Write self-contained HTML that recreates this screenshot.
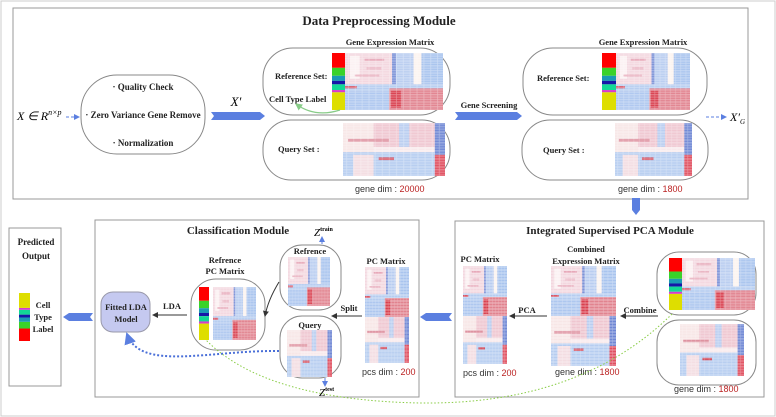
<!DOCTYPE html>
<html><head><meta charset="utf-8"><style>
html,body{margin:0;padding:0;background:#fff}
svg{display:block}
.t{font-family:"Liberation Serif",serif;font-weight:bold;fill:#222}
.s{font-family:"Liberation Sans",sans-serif;fill:#333;font-size:9px}
.r{fill:#b22}
</style></head><body>
<svg width="776" height="417" viewBox="0 0 776 417" xmlns="http://www.w3.org/2000/svg">
<defs>
<pattern id="st" width="7" height="3" patternUnits="userSpaceOnUse"><rect width="7" height="1" fill="#fff" opacity="0.45"/><rect x="3" y="1" width="1" height="2" fill="#fff" opacity="0.3"/></pattern>
<symbol id="hm" viewBox="0 0 100 100" preserveAspectRatio="none">
<rect width="100" height="100" fill="#f6e4e8"/>
<rect x="0" y="0" width="48" height="55" fill="#f3d7df"/>
<rect x="5" y="5" width="10" height="40" fill="#fbf1f2"/>
<rect x="20" y="10" width="20" height="4" fill="#e7a9b9"/>
<rect x="22" y="25" width="15" height="4" fill="#e9b4c2"/>
<rect x="10" y="38" width="25" height="3" fill="#e7a9b9"/>
<rect x="48" y="0" width="4" height="55" fill="#7d93d8"/>
<rect x="52" y="0" width="18" height="55" fill="#b9cdf0"/>
<rect x="70" y="0" width="8" height="55" fill="#fbf3ef"/>
<rect x="78" y="0" width="22" height="55" fill="#a9c4ee"/>
<rect x="0" y="55" width="100" height="12" fill="#b6cdf0"/>
<rect x="0" y="67" width="45" height="33" fill="#aec7ef"/>
<rect x="45" y="62" width="55" height="38" fill="#e1838f"/>
<rect x="47" y="66" width="10" height="30" fill="#d9404f"/>
<rect x="0" y="58" width="12" height="4" fill="#d85a6a"/>
<rect width="100" height="100" fill="url(#st)"/>
</symbol>
<symbol id="qm" viewBox="0 0 100 100" preserveAspectRatio="none">
<rect width="100" height="100" fill="#f8eaec"/>
<rect x="0" y="0" width="30" height="55" fill="#f7e6e6"/>
<rect x="30" y="0" width="60" height="45" fill="#efc6d0"/>
<rect x="55" y="0" width="10" height="45" fill="#b9cdf0"/>
<rect x="90" y="0" width="10" height="60" fill="#6f87d4"/>
<rect x="5" y="30" width="40" height="5" fill="#dc8b9a"/>
<rect x="0" y="55" width="90" height="45" fill="#b6cdf0"/>
<rect x="10" y="60" width="20" height="40" fill="#f3dde2"/>
<rect x="35" y="65" width="15" height="5" fill="#d34a5a"/>
<rect x="90" y="60" width="10" height="40" fill="#e05060"/>
<rect width="100" height="100" fill="url(#st)"/>
</symbol>
<symbol id="bar" viewBox="0 0 10 100" preserveAspectRatio="none">
<rect y="0" width="10" height="26" fill="#f00"/>
<rect y="26" width="10" height="14" fill="#3ad22a"/>
<rect y="40" width="10" height="9" fill="#1a9ab5"/>
<rect y="49" width="10" height="6" fill="#1616a8"/>
<rect y="55" width="10" height="10" fill="#12d896"/>
<rect y="65" width="10" height="4" fill="#d63ccc"/>
<rect y="69" width="10" height="31" fill="#dede00"/>
</symbol>
<marker id="ab" markerWidth="6" markerHeight="6" refX="5" refY="3" orient="auto"><path d="M0,0L6,3L0,6z" fill="#5b7fe0"/></marker>
<marker id="ak" markerWidth="6" markerHeight="6" refX="5" refY="3" orient="auto"><path d="M0,0L6,3L0,6z" fill="#333"/></marker>
<marker id="ag" markerWidth="6" markerHeight="6" refX="5" refY="3" orient="auto"><path d="M0,0L6,3L0,6z" fill="#8c8"/></marker>
</defs>
<rect x="1" y="1" width="774" height="415" fill="none" stroke="#ccc"/>
<rect x="13" y="8" width="735" height="191" fill="none" stroke="#999"/>
<text class="t" x="379" y="25" font-size="13" text-anchor="middle">Data Preprocessing Module</text>
<text x="17" y="120" font-family="Liberation Serif,serif" font-style="italic" font-size="12">X ∈ R<tspan font-size="8" dy="-5">n×p</tspan></text>
<line x1="66" y1="117" x2="79" y2="117" stroke="#5b7fe0" stroke-dasharray="3,2" marker-end="url(#ab)"/>
<rect x="81" y="75" width="124" height="79" rx="36" fill="#fff" stroke="#888"/>
<text class="t" x="143" y="90" font-size="9" text-anchor="middle">· Quality Check</text>
<text class="t" x="143" y="118" font-size="9" text-anchor="middle">· Zero Variance Gene Remove</text>
<text class="t" x="143" y="146" font-size="9" text-anchor="middle">· Normalization</text>
<path d="M211,112H260L265,116L260,120H211L214,116z" fill="#5b7fe0"/>
<text x="236" y="106" font-family="Liberation Serif,serif" font-style="italic" font-size="13" text-anchor="middle">X′</text>
<text class="t" x="390" y="45" font-size="8.5" text-anchor="middle">Gene Expression Matrix</text>
<rect x="263" y="48" width="187" height="67" rx="30" fill="none" stroke="#888"/>
<rect x="263" y="120" width="187" height="60" rx="28" fill="none" stroke="#888"/>
<use href="#bar" x="332" y="53" width="13" height="57"/>
<use href="#hm" x="345" y="53" width="98" height="57"/>
<use href="#qm" x="343" y="123" width="102" height="53"/>
<text class="t" x="275" y="79" font-size="8.5">Reference Set:</text>
<text class="t" x="269" y="102" font-size="8.5">Cell Type Label</text>
<path d="M340,110 Q315,118 296,104" fill="none" stroke="#8c8" stroke-width="1.2" marker-end="url(#ag)"/>
<text class="t" x="278" y="152" font-size="8.5">Query Set :</text>
<text class="s" x="355" y="192">gene dim : <tspan class="r">20000</tspan></text>
<path d="M455,112H517L522,116L517,120H455L458,116z" fill="#5b7fe0"/>
<text class="t" x="489" y="108" font-size="8.5" text-anchor="middle">Gene Screening</text>
<text class="t" x="643" y="45" font-size="8.5" text-anchor="middle">Gene Expression Matrix</text>
<rect x="523" y="48" width="184" height="67" rx="30" fill="none" stroke="#888"/>
<rect x="522" y="120" width="186" height="60" rx="28" fill="none" stroke="#888"/>
<use href="#bar" x="602" y="53" width="14" height="57"/>
<use href="#hm" x="616" y="53" width="74" height="57"/>
<use href="#qm" x="615" y="123" width="77" height="53"/>
<text class="t" x="537" y="81" font-size="8.5">Reference Set:</text>
<text class="t" x="543" y="153" font-size="8.5">Query Set :</text>
<text class="s" x="618" y="192">gene dim : <tspan class="r">1800</tspan></text>
<line x1="706" y1="117" x2="726" y2="117" stroke="#5b7fe0" stroke-dasharray="3,2" marker-end="url(#ab)"/>
<text x="730" y="121" font-family="Liberation Serif,serif" font-style="italic" font-size="12">X′<tspan font-size="7" dy="3">G</tspan></text>
<path d="M632,198H640V210L636,215L632,210z" fill="#5b7fe0"/>
<rect x="455" y="221" width="309" height="176" fill="none" stroke="#999"/>
<text class="t" x="610" y="234" font-size="11" text-anchor="middle">Integrated Supervised PCA Module</text>
<text class="t" x="480" y="262" font-size="8.5" text-anchor="middle">PC Matrix</text>
<use href="#hm" x="463" y="266" width="44" height="50"/>
<use href="#qm" x="463" y="316" width="44" height="48"/>
<text class="s" x="463" y="376">pcs dim : <tspan class="r">200</tspan></text>
<text class="t" x="586" y="252" font-size="8.5" text-anchor="middle">Combined</text>
<text class="t" x="586" y="264" font-size="8.5" text-anchor="middle">Expression Matrix</text>
<use href="#hm" x="551" y="266" width="65" height="50"/>
<use href="#qm" x="551" y="316" width="65" height="50"/>
<text class="s" x="555" y="375">gene dim : <tspan class="r">1800</tspan></text>
<line x1="547" y1="316" x2="510" y2="316" stroke="#333" marker-end="url(#ak)"/>
<text class="t" x="527" y="313" font-size="8.5" text-anchor="middle">PCA</text>
<line x1="658" y1="316" x2="621" y2="316" stroke="#333" marker-end="url(#ak)"/>
<text class="t" x="640" y="313" font-size="8.5" text-anchor="middle">Combine</text>
<rect x="657" y="252" width="99" height="63" rx="22" fill="none" stroke="#888"/>
<rect x="657" y="320" width="99" height="65" rx="22" fill="none" stroke="#888"/>
<use href="#bar" x="669" y="258" width="13" height="52"/>
<use href="#hm" x="682" y="258" width="73" height="52"/>
<use href="#qm" x="680" y="324" width="64" height="52"/>
<text class="s" x="674" y="392">gene dim : <tspan class="r">1800</tspan></text>
<path d="M452,313H426L420,317L426,321H452L449,317z" fill="#5b7fe0"/>
<rect x="95" y="220" width="324" height="177" fill="none" stroke="#999"/>
<text class="t" x="238" y="234" font-size="11" text-anchor="middle">Classification Module</text>
<text class="t" x="386" y="264" font-size="8.5" text-anchor="middle">PC Matrix</text>
<use href="#hm" x="365" y="267" width="44" height="50"/>
<use href="#qm" x="365" y="317" width="44" height="46"/>
<text class="s" x="362" y="375">pcs dim : <tspan class="r">200</tspan></text>
<line x1="362" y1="316" x2="332" y2="316" stroke="#333" marker-end="url(#ak)"/>
<text class="t" x="349" y="311" font-size="8.5" text-anchor="middle">Split</text>
<rect x="280" y="245" width="61" height="65" rx="22" fill="none" stroke="#888"/>
<text class="t" x="310" y="254" font-size="8.5" text-anchor="middle">Refrence</text>
<use href="#hm" x="288" y="257" width="42" height="49"/>
<rect x="280" y="316" width="61" height="62" rx="22" fill="none" stroke="#888"/>
<text class="t" x="310" y="328" font-size="8.5" text-anchor="middle">Query</text>
<use href="#qm" x="287" y="330" width="45" height="47"/>
<line x1="322" y1="244" x2="322" y2="237" stroke="#5b7fe0" marker-end="url(#ab)"/>
<text x="314" y="236" font-family="Liberation Serif,serif" font-style="italic" font-size="11">Z<tspan font-size="6" font-style="normal" font-weight="bold" dy="-5">train</tspan></text>
<line x1="325" y1="378" x2="325" y2="386" stroke="#5b7fe0" marker-end="url(#ab)"/>
<text x="319" y="396" font-family="Liberation Serif,serif" font-style="italic" font-size="11">Z<tspan font-size="6" font-style="normal" font-weight="bold" dy="-5">test</tspan></text>
<text class="t" x="225" y="263" font-size="8.5" text-anchor="middle">Refrence</text>
<text class="t" x="225" y="274" font-size="8.5" text-anchor="middle">PC Matrix</text>
<rect x="191" y="279" width="74" height="71" rx="25" fill="none" stroke="#888"/>
<use href="#bar" x="199" y="287" width="10" height="53"/>
<use href="#hm" x="213" y="287" width="43" height="53"/>
<path d="M279,282 Q268,300 265,316" fill="none" stroke="#333" marker-end="url(#ak)"/>
<line x1="187" y1="315" x2="153" y2="315" stroke="#333" marker-end="url(#ak)"/>
<text class="t" x="172" y="309" font-size="8.5" text-anchor="middle">LDA</text>
<rect x="101" y="292" width="49" height="40" rx="12" fill="#c5c9f0" stroke="#99a"/>
<text class="t" x="126" y="310" font-size="8.5" text-anchor="middle">Fitted LDA</text>
<text class="t" x="126" y="322" font-size="8.5" text-anchor="middle">Model</text>
<path d="M279,351 C210,350 140,372 127,334" fill="none" stroke="#4a6fd8" stroke-width="2" stroke-dasharray="2,2" marker-end="url(#ab)"/>
<path d="M672,314 Q580,405 420,403 Q265,400 206,340" fill="none" stroke="#8c4" stroke-dasharray="1.5,2" stroke-width="1"/>
<rect x="9" y="228" width="52" height="158" fill="none" stroke="#999"/>
<text class="t" x="36" y="245" font-size="9" text-anchor="middle">Predicted</text>
<text class="t" x="36" y="259" font-size="9" text-anchor="middle">Output</text>
<g transform="translate(19,341) scale(1,-1)"><use href="#bar" x="0" y="0" width="11" height="48"/></g>
<text class="t" x="43" y="308" font-size="8.5" text-anchor="middle">Cell</text>
<text class="t" x="43" y="320" font-size="8.5" text-anchor="middle">Type</text>
<text class="t" x="43" y="332" font-size="8.5" text-anchor="middle">Label</text>
<path d="M93,313H69L63,317L69,321H93L90,317z" fill="#5b7fe0"/>
</svg>
</body></html>
